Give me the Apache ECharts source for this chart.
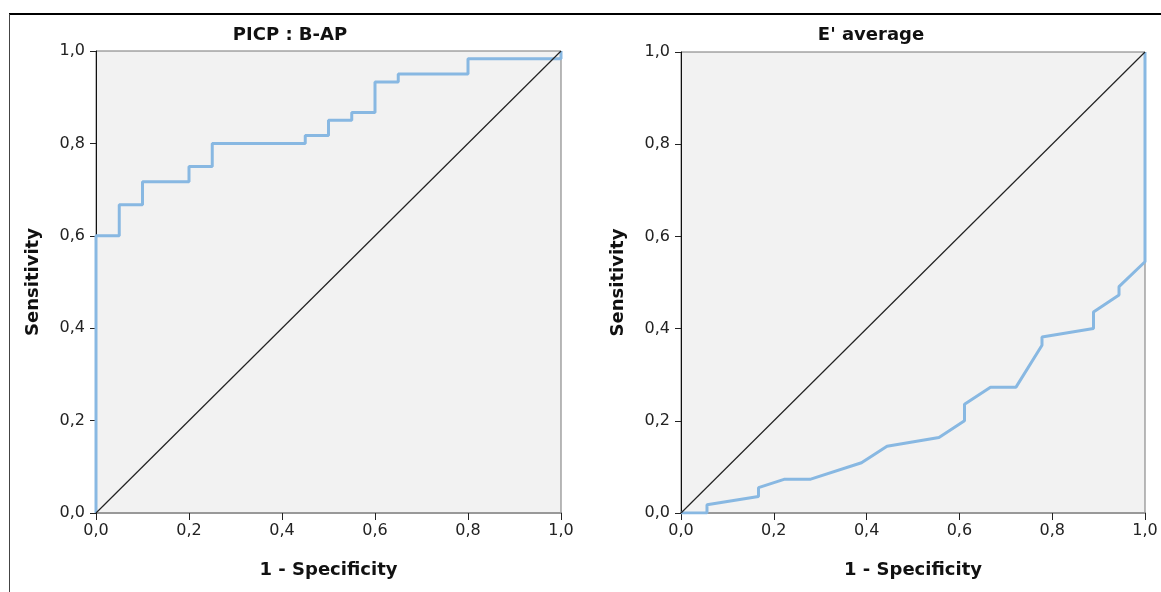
<!DOCTYPE html>
<html>
<head>
<meta charset="utf-8">
<script src="https://cdn.jsdelivr.net/npm/echarts@6/dist/echarts.min.js"></script>
<style>
html,body{margin:0;padding:0;background:#fff;}
#c{width:1161px;height:592px;}
</style>
</head>
<body>
<div id="c"></div>
<script>
// Chart titles and axis names
const titles = ["PICP : B-AP", "E' average"];
const xName = "1 - Specificity";
const yName = "Sensitivity";

// ROC curve coordinates, left panel (PICP : B-AP)
const fprA = [0, 0, 0.05, 0.05, 0.10, 0.10, 0.20, 0.20, 0.25, 0.25, 0.45, 0.45, 0.50, 0.50, 0.55, 0.55, 0.60, 0.60, 0.65, 0.65, 0.80, 0.80, 1.0, 1.0];
const tprA = [0, 0.600, 0.600, 0.667, 0.667, 0.717, 0.717, 0.750, 0.750, 0.800, 0.800, 0.817, 0.817, 0.850, 0.850, 0.867, 0.867, 0.933, 0.933, 0.950, 0.950, 0.983, 0.983, 1.0];

// ROC curve coordinates, right panel (E' average)
const fprB = [0, 0.056, 0.056, 0.167, 0.167, 0.222, 0.278, 0.389, 0.444, 0.556, 0.611, 0.611, 0.667, 0.722, 0.778, 0.778, 0.889, 0.889, 0.944, 0.944, 1.0, 1.0];
const tprB = [0, 0, 0.018, 0.036, 0.055, 0.073, 0.073, 0.109, 0.145, 0.164, 0.200, 0.236, 0.273, 0.273, 0.364, 0.382, 0.400, 0.436, 0.473, 0.491, 0.545, 1.0];

// Reference diagonal
const diagX = [0, 1];
const diagY = [0, 1];

const zip = (a, b) => a.map((v, i) => [v, b[i]]);
const FONT = "'DejaVu Sans', 'Noto Sans', sans-serif";
const fmt = v => v.toFixed(1).replace('.', ',');

const grids = [
  {left: 96, top: 51, width: 465, height: 462},
  {left: 681, top: 52, width: 464, height: 461}
];

function xAxisFor(i) {
  return {
    type: 'value', gridIndex: i, min: 0, max: 1, interval: 0.2,
    name: xName, nameLocation: 'middle', nameGap: 48,
    nameTextStyle: {fontFamily: FONT, fontWeight: 'bold', fontSize: 18, color: '#111'},
    axisLine: {show: true, onZero: false, lineStyle: {color: '#555', width: 2}},
    axisTick: {show: true, length: 7, inside: false, lineStyle: {color: '#222', width: 1}},
    axisLabel: {formatter: fmt, fontFamily: FONT, fontSize: 16, color: '#222', margin: 10},
    splitLine: {show: false}
  };
}
function yAxisFor(i) {
  return {
    type: 'value', gridIndex: i, min: 0, max: 1, interval: 0.2,
    name: yName, nameLocation: 'middle', nameGap: 54, nameRotate: 90,
    nameTextStyle: {fontFamily: FONT, fontWeight: 'bold', fontSize: 18, color: '#111'},
    axisLine: {show: true, onZero: false, lineStyle: {color: '#111', width: 1}},
    axisTick: {show: true, length: 6, inside: false, lineStyle: {color: '#222', width: 1}},
    axisLabel: {formatter: fmt, fontFamily: FONT, fontSize: 16, color: '#222', margin: 11},
    splitLine: {show: false}
  };
}

const curveStyle = {color: '#88b8e2', width: 3};

const option = {
  animation: false,
  backgroundColor: '#fff',
  title: [
    {text: titles[0], left: 285, top: 21, textAlign: 'center',
     textStyle: {fontFamily: FONT, fontWeight: 'bold', fontSize: 18, color: '#111'}},
    {text: titles[1], left: 866, top: 21, textAlign: 'center',
     textStyle: {fontFamily: FONT, fontWeight: 'bold', fontSize: 18, color: '#111'}}
  ],
  grid: grids.map(g => Object.assign({show: true, backgroundColor: '#f2f2f2', borderColor: '#777', borderWidth: 1}, g)),
  xAxis: [xAxisFor(0), xAxisFor(1),
    {type: 'value', gridIndex: 0, position: 'top', min: 0, max: 1, axisLine: {show: true, lineStyle: {color: '#999', width: 2}}, axisTick: {show: false}, axisLabel: {show: false}, splitLine: {show: false}},
    {type: 'value', gridIndex: 1, position: 'top', min: 0, max: 1, axisLine: {show: true, lineStyle: {color: '#999', width: 2}}, axisTick: {show: false}, axisLabel: {show: false}, splitLine: {show: false}}
  ],
  yAxis: [yAxisFor(0), yAxisFor(1)],
  series: [
    {type: 'line', xAxisIndex: 0, yAxisIndex: 0, data: zip(diagX, diagY), showSymbol: false, lineStyle: {color: '#222', width: 1.2}, z: 3},
    {type: 'line', xAxisIndex: 0, yAxisIndex: 0, data: zip(fprA, tprA), showSymbol: false, lineStyle: curveStyle, z: 2},
    {type: 'line', xAxisIndex: 1, yAxisIndex: 1, data: zip(diagX, diagY), showSymbol: false, lineStyle: {color: '#222', width: 1.2}, z: 3},
    {type: 'line', xAxisIndex: 1, yAxisIndex: 1, data: zip(fprB, tprB), showSymbol: false, lineStyle: curveStyle, z: 2}
  ],
  graphic: [
    {type: 'line', shape: {x1: 9, y1: 14, x2: 1161, y2: 14}, style: {stroke: '#000', lineWidth: 2}},
    {type: 'line', shape: {x1: 9.5, y1: 14, x2: 9.5, y2: 592}, style: {stroke: '#444', lineWidth: 1}}
  ]
};

const chart = echarts.init(document.getElementById('c'), null, {renderer: 'canvas'});
chart.setOption(option);
</script>
</body>
</html>
